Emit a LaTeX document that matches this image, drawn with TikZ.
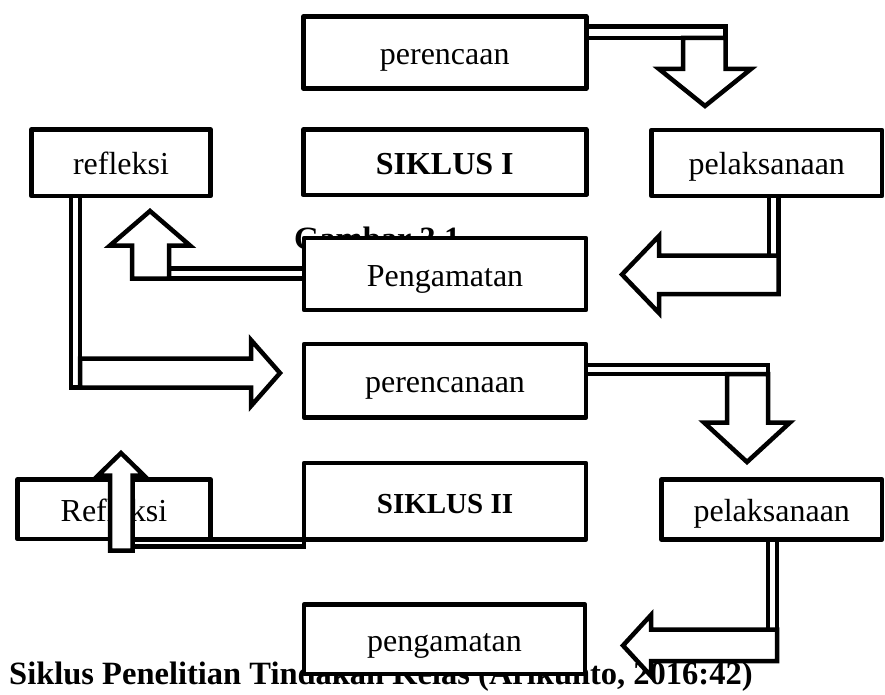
\documentclass[tikz,border=0pt]{standalone}
\usepackage{fontspec}
\setmainfont{Liberation Serif}
\begin{document}
\begin{tikzpicture}[x=1pt,y=-1pt,
  box/.style={draw=black, fill=white, line width=4.5pt, rectangle, inner sep=0pt,
    text height=24pt, text depth=0pt, font=\fontsize{32}{38}\selectfont, line join=round},
  bbox/.style={box, font=\fontsize{29}{36}\selectfont\bfseries},
  blockarrow/.style={draw=black, fill=white, line width=4.5pt, line join=miter, miter limit=10},
  stem/.style={draw=black, fill=white, line width=4.5pt, line join=miter},
  plain/.style={anchor=base west, inner sep=0pt, font=\fontsize{32.5}{38}\selectfont\bfseries}]
\useasboundingbox (0,0) rectangle (885,695);
\fill[white] (0,0) rectangle (885,695);
% texts lying under the shapes
\node[plain] (cap) at (9,684) {Siklus Penelitian Tindakan Kelas (Arikunto, 2016:42)};
\node[plain] (fig) at (294,249) {Gambar 3.1};
% boxes
\node[box, minimum width=283pt, minimum height=72pt] (per1) at (444.75,52.5) {perencaan};
\node[bbox, font=\fontsize{32}{38}\selectfont\bfseries, minimum width=283pt, minimum height=65.5pt] (sik1) at (444.75,162.25) {SIKLUS I};
\node[box, minimum width=179pt, minimum height=66.5pt] (ref1) at (121,162.75) {refleksi};
\node[box, minimum width=230.5pt, minimum height=66pt] (pel1) at (766.75,163) {pelaksanaan};
\node[box, minimum width=282pt, minimum height=72pt] (pen1) at (445,274) {Pengamatan};
\node[box, minimum width=282pt, minimum height=73.5pt] (per2) at (445,380.75) {perencanaan};
\node[bbox, minimum width=282pt, minimum height=76.5pt] (sik2) at (445,501.25) {SIKLUS II};
\node[box, minimum width=193pt, minimum height=59.5pt] (ref2) at (114,509.25) {Refleksi};
\node[box, minimum width=220.5pt, minimum height=60pt] (pel2) at (771.75,509.5) {pelaksanaan};
\node[box, minimum width=281pt, minimum height=69.5pt] (pen2) at (444.5,639.25) {pengamatan};
% arrow 1: perencaan -> pelaksanaan
\draw[stem] (586.5,26.5) rectangle (725.5,38);
\draw[blockarrow] (683,38) -- (725.5,38) -- (725.5,69) -- (751,69) -- (705,106) -- (659,69) -- (683,69) -- cycle;
% arrow 2: pelaksanaan -> Pengamatan
\draw[stem] (769,196) rectangle (778.5,294);
\draw[blockarrow] (778.5,255.5) -- (778.5,294) -- (659,294) -- (659,313) -- (622,274.5) -- (659,236) -- (659,255.5) -- cycle;
% arrow 3: Pengamatan -> refleksi
\draw[stem] (169,268.5) rectangle (304,278.5);
\draw[blockarrow] (132,278.5) -- (132,245.5) -- (110,245.5) -- (150,211) -- (190,245.5) -- (169,245.5) -- (169,278.5) -- cycle;
% arrow 4: refleksi -> perencanaan
\draw[stem] (71,196) rectangle (80,387.5);
\draw[blockarrow] (80,358.5) -- (251,358.5) -- (251,340) -- (280,373) -- (251,406) -- (251,387.5) -- (80,387.5) -- cycle;
% arrow 5: perencanaan -> pelaksanaan
\draw[stem] (586,365) rectangle (768,374);
\draw[blockarrow] (727,374) -- (768,374) -- (768,422.5) -- (790,422.5) -- (747,462) -- (704,422.5) -- (727,422.5) -- cycle;
% arrow 6: pelaksanaan -> pengamatan
\draw[stem] (768,539.5) rectangle (777,661);
\draw[blockarrow] (777,629.5) -- (777,661) -- (651,661) -- (651,676) -- (623,645.5) -- (651,615) -- (651,629.5) -- cycle;
% arrow 7: SIKLUS II -> Refleksi
\draw[stem] (132.5,539.5) rectangle (304,546.5);
\draw[blockarrow] (110,550.5) -- (110,475.5) -- (98,475.5) -- (121,453) -- (144,475.5) -- (132.5,475.5) -- (132.5,550.5) -- cycle;
\end{tikzpicture}
\end{document}
